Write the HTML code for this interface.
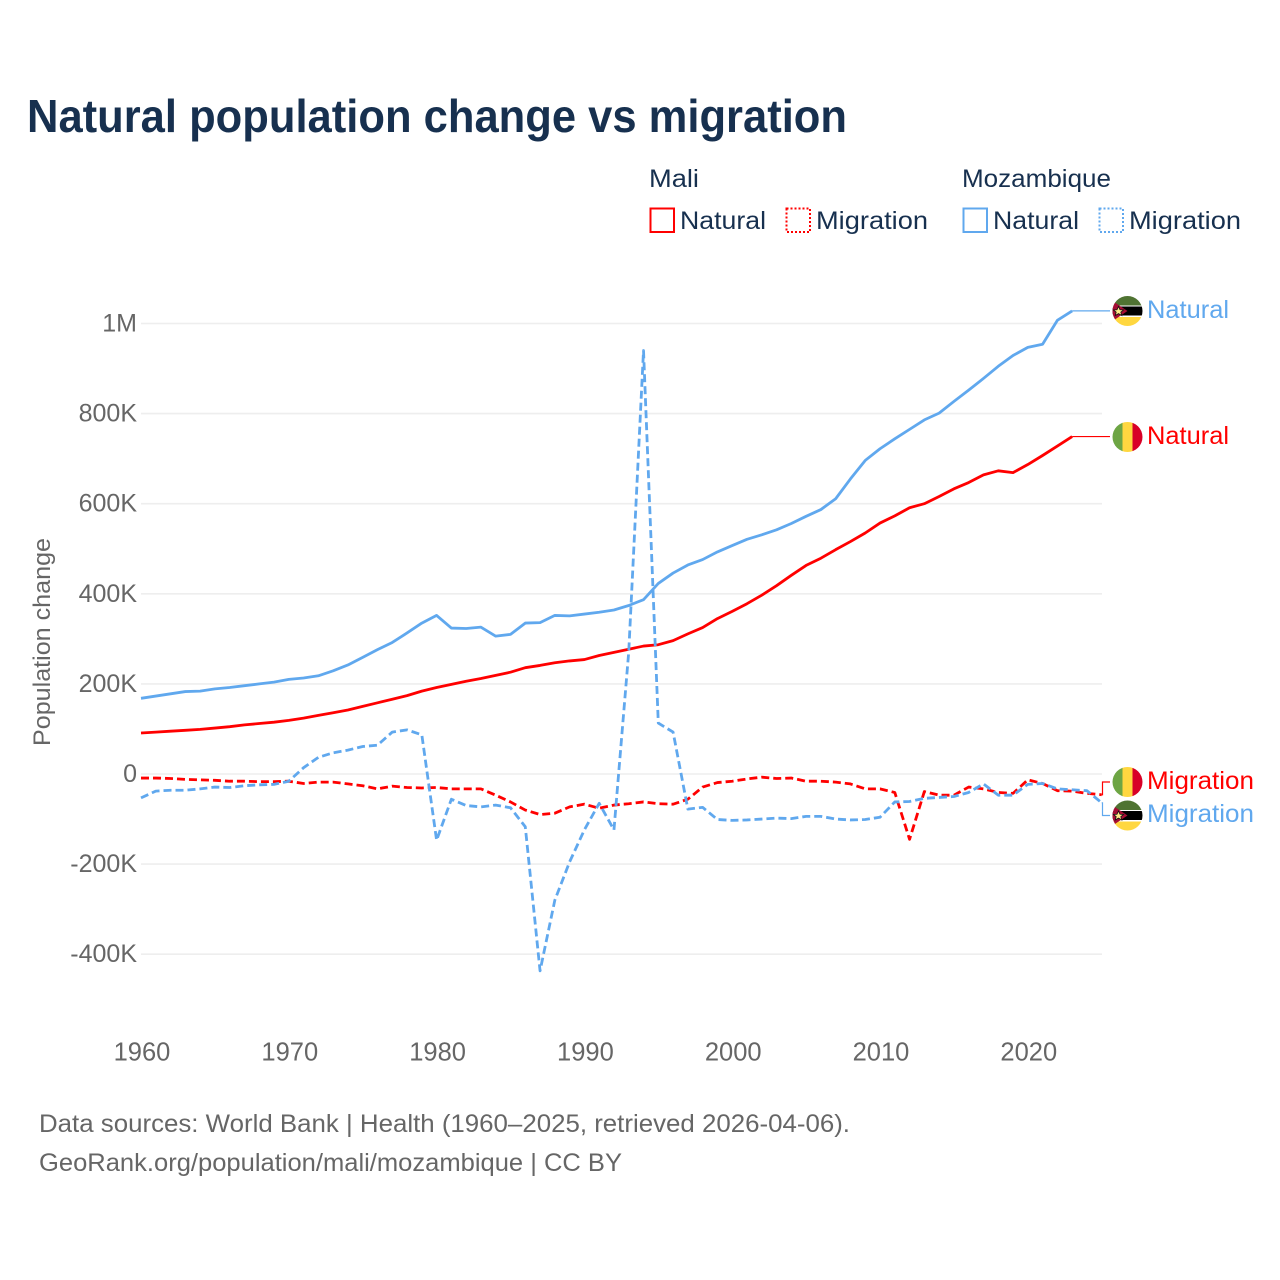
<!DOCTYPE html>
<html lang="en">
<head>
<meta charset="utf-8">
<title>Natural population change vs migration</title>
<style>
html,body{margin:0;padding:0;background:#fff}
svg{display:block}
text{font-family:"Liberation Sans",sans-serif}
</style>
</head>
<body>
<svg id="chart" xmlns="http://www.w3.org/2000/svg" width="1280" height="1280" viewBox="0 0 1280 1280">
<defs>
<clipPath id="flag-clip-a"><circle cx="1127.5" cy="311" r="15"/></clipPath>
<clipPath id="flag-clip-b"><circle cx="1127.5" cy="437" r="15"/></clipPath>
<clipPath id="flag-clip-c"><circle cx="1127.5" cy="782" r="15"/></clipPath>
<clipPath id="flag-clip-d"><circle cx="1127.5" cy="815.5" r="15"/></clipPath>
</defs>
<rect width="1280" height="1280" fill="#fff"/>
<text x="27" y="132" font-size="46" font-weight="700" fill="#17304f" textLength="820" lengthAdjust="spacingAndGlyphs">Natural population change vs migration</text>

<g font-size="25" fill="#17304f">
<text x="649" y="187" textLength="50" lengthAdjust="spacingAndGlyphs">Mali</text>
<rect x="650.5" y="208.5" width="23.5" height="23.5" fill="none" stroke="#ff0000" stroke-width="2"/>
<text x="680" y="229" textLength="86" lengthAdjust="spacingAndGlyphs">Natural</text>
<rect x="786.5" y="208.5" width="23.5" height="23.5" fill="none" stroke="#ff0000" stroke-width="2" stroke-dasharray="2,2"/>
<text x="816" y="229" textLength="112" lengthAdjust="spacingAndGlyphs">Migration</text>
<text x="962" y="187" textLength="149" lengthAdjust="spacingAndGlyphs">Mozambique</text>
<rect x="963.5" y="208.5" width="23.5" height="23.5" fill="none" stroke="#60a8ee" stroke-width="2"/>
<text x="993" y="229" textLength="86" lengthAdjust="spacingAndGlyphs">Natural</text>
<rect x="1099.5" y="208.5" width="23.5" height="23.5" fill="none" stroke="#60a8ee" stroke-width="2" stroke-dasharray="2,2"/>
<text x="1129" y="229" textLength="112" lengthAdjust="spacingAndGlyphs">Migration</text>
</g>

<g id="grid"></g>
<g id="yticks"></g>
<g id="xticks"></g>
<text transform="translate(50,746) rotate(-90)" font-size="24" fill="#666" textLength="208" lengthAdjust="spacingAndGlyphs">Population change</text>
<g id="series"></g>

<g clip-path="url(#flag-clip-a)">
<rect x="1112" y="296" width="31" height="31" fill="#fff"/>
<rect x="1112" y="296" width="31" height="9.5" fill="#4f7332"/>
<rect x="1112" y="306.5" width="31" height="9" fill="#000"/>
<rect x="1112" y="317" width="31" height="10" fill="#ffd740"/>
<path d="M1112 300.5 L1127.5 311 L1112 321.5 Z" fill="#a50d34"/>
<path d="M1118.5 306.5 L1120 309.8 L1123.5 310 L1120.8 312.2 L1121.8 315.5 L1118.5 313.6 L1115.2 315.5 L1116.2 312.2 L1113.5 310 L1117 309.8 Z" fill="#ffe98a" stroke="#111" stroke-width=".8"/>
</g>
<g clip-path="url(#flag-clip-b)">
<rect x="1112" y="422" width="11" height="31" fill="#6da544"/>
<rect x="1122.5" y="422" width="10.5" height="31" fill="#ffd740"/>
<rect x="1132.5" y="422" width="11" height="31" fill="#d80027"/>
</g>
<g clip-path="url(#flag-clip-c)">
<rect x="1112" y="767" width="11" height="31" fill="#6da544"/>
<rect x="1122.5" y="767" width="10.5" height="31" fill="#ffd740"/>
<rect x="1132.5" y="767" width="11" height="31" fill="#d80027"/>
</g>
<g clip-path="url(#flag-clip-d)">
<rect x="1112" y="800" width="31" height="31" fill="#fff"/>
<rect x="1112" y="800" width="31" height="10" fill="#4f7332"/>
<rect x="1112" y="811" width="31" height="9" fill="#000"/>
<rect x="1112" y="821.5" width="31" height="10" fill="#ffd740"/>
<path d="M1112 805 L1127.5 815.5 L1112 826 Z" fill="#a50d34"/>
<path d="M1118.5 811 L1120 814.3 L1123.5 814.5 L1120.8 816.7 L1121.8 820 L1118.5 818.1 L1115.2 820 L1116.2 816.7 L1113.5 814.5 L1117 814.3 Z" fill="#ffe98a" stroke="#111" stroke-width=".8"/>
</g>

<g font-size="25">
<text x="1147" y="318" fill="#60a8ee" textLength="82" lengthAdjust="spacingAndGlyphs">Natural</text>
<text x="1147" y="444" fill="#ff0000" textLength="82" lengthAdjust="spacingAndGlyphs">Natural</text>
<text x="1147" y="789" fill="#ff0000" textLength="107" lengthAdjust="spacingAndGlyphs">Migration</text>
<text x="1147" y="822" fill="#60a8ee" textLength="107" lengthAdjust="spacingAndGlyphs">Migration</text>
</g>

<g font-size="25" fill="#666">
<text x="39" y="1132" textLength="811" lengthAdjust="spacingAndGlyphs">Data sources: World Bank | Health (1960–2025, retrieved 2026-04-06).</text>
<text x="39" y="1171" textLength="583" lengthAdjust="spacingAndGlyphs">GeoRank.org/population/mali/mozambique | CC BY</text>
</g>
</svg>

<script>
var startYear = 1960;
var xTickYears = [1960, 1970, 1980, 1990, 2000, 2010, 2020];
var yTickValues = [1000, 800, 600, 400, 200, 0, -200, -400];
var yTickLabels = ['1M', '800K', '600K', '400K', '200K', '0', '-200K', '-400K'];
/* values in thousands, one per year starting at 1960 */
var maliNatural = [91,93,95,97,99,102,105,109,112,115,119,124,130,136,142,150,158,166,174,184,192,199,206,212,219,226,236,241,247,251,254,263,270,277,284,287,296,311,325,345,361,378,397,418,441,463,479,498,516,535,557,573,591,600,616,633,647,664,673,669,687,707,728,749];
var mozNatural = [168,173,178,183,184,189,192,196,200,204,210,213,218,229,242,259,276,292,313,335,352,324,323,326,306,310,335,336,352,351,355,359,364,374,387,423,446,464,476,493,507,521,531,542,556,572,587,611,655,696,722,744,765,786,801,827,852,878,905,929,947,954,1007,1028];
var maliMigration = [-9,-9,-10,-12,-13,-14,-16,-16,-17,-17,-16,-21,-18,-18,-22,-26,-33,-27,-30,-31,-30,-33,-33,-33,-47,-62,-80,-90,-87,-73,-67,-76,-69,-66,-62,-66,-67,-56,-29,-19,-16,-11,-7,-10,-9,-16,-16,-18,-22,-33,-33,-41,-145,-39,-47,-47,-29,-33,-41,-43,-13,-21,-37,-38,-43,-46];
var mozMigration = [-53,-38,-36,-36,-33,-29,-30,-26,-24,-23,-16,14,37,47,53,61,64,93,98,87,-147,-56,-70,-73,-69,-75,-117,-437,-280,-195,-124,-65,-124,271,940,113,93,-78,-74,-101,-103,-102,-100,-98,-99,-94,-94,-100,-102,-101,-96,-62,-61,-54,-52,-50,-41,-22,-47,-47,-23,-21,-33,-35,-37,-64];

var NS = 'http://www.w3.org/2000/svg';
function xScale(year) { return 141 + (year - 1960) * 14.78; }
function yScale(v) { return 774 - v * 0.4505; }
function make(tag, attrs, parent) {
  var el = document.createElementNS(NS, tag);
  for (var k in attrs) el.setAttribute(k, attrs[k]);
  parent.appendChild(el);
  return el;
}

var grid = document.getElementById('grid');
var yticks = document.getElementById('yticks');
yTickValues.forEach(function (v, i) {
  var line = make('line', {x1: 141, x2: 1102, y1: yScale(v), y2: yScale(v), stroke: '#eeeeee', 'stroke-width': 1.6}, grid);
  
  
  var label = make('text', {x: 137, y: yScale(v) + 8, 'text-anchor': 'end', 'font-size': 25, fill: '#666'}, yticks);
  label.textContent = yTickLabels[i];
  
  
});

var xticks = document.getElementById('xticks');
xTickYears.forEach(function (yr) {
  var label = make('text', {x: xScale(yr) + 1, y: 1060.5, 'text-anchor': 'middle', 'font-size': 25.5, fill: '#666'}, xticks);
  label.textContent = String(yr);
  
  
});

var seriesGroup = document.getElementById('series');
function drawLine(values, color, dashed) {
  var d = values.map(function (v, i) {
    return (i ? 'L' : 'M') + xScale(startYear + i).toFixed(2) + ' ' + yScale(v).toFixed(2);
  }).join(' ');
  var attrs = {d: d, fill: 'none', stroke: color, 'stroke-width': 2.8, 'stroke-linejoin': 'round'};
  if (dashed) attrs['stroke-dasharray'] = '8,4';
  return make('path', attrs, seriesGroup);
}
function lastPoint(values) {
  var i = values.length - 1;
  return [xScale(startYear + i), yScale(values[i])];
}
function drawConnector(values, color, flagY) {
  var p = lastPoint(values);
  var d = Math.abs(p[1] - flagY) < 2
    ? 'M' + p[0] + ' ' + p[1] + ' L1110 ' + p[1]
    : 'M' + p[0] + ' ' + p[1] + ' L1102.5 ' + p[1] + ' L1102.5 ' + flagY + ' L1110 ' + flagY;
  return make('path', {d: d, fill: 'none', stroke: color, 'stroke-width': 1.2}, seriesGroup);
}

var mc1 = drawConnector(mozNatural, '#60a8ee', yScale(mozNatural[mozNatural.length - 1]));


var mc2 = drawConnector(maliNatural, '#ff0000', yScale(maliNatural[maliNatural.length - 1]));


var mc3 = drawConnector(maliMigration, '#ff0000', 782);


var mc4 = drawConnector(mozMigration, '#60a8ee', 815.5);



var l1 = drawLine(maliNatural, '#ff0000', false);


var l2 = drawLine(mozNatural, '#60a8ee', false);


var l3 = drawLine(maliMigration, '#ff0000', true);


var l4 = drawLine(mozMigration, '#60a8ee', true);


</script>
</body>
</html>
